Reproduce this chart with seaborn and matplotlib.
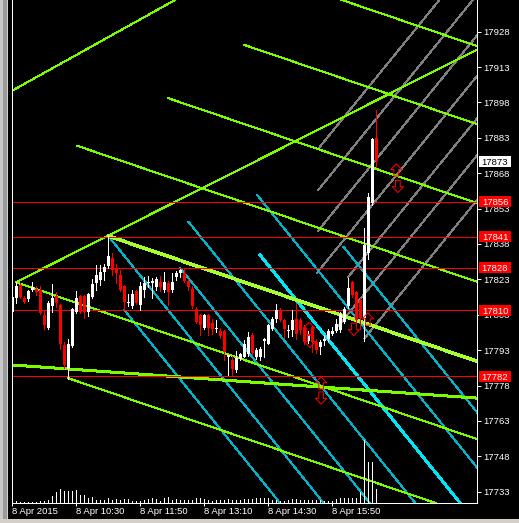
import matplotlib
matplotlib.use("Agg")
import matplotlib.pyplot as plt
from matplotlib.patches import Rectangle
from matplotlib.path import Path
from matplotlib.markers import MarkerStyle
import seaborn as sns

# 5-minute candles, 8 Apr 2015, first bar 09:10
opens = [17809.2, 17814.9, 17820.8, 17815.1, 17814.6, 17818.7, 17819.1, 17818.4, 17807.8, 17802.4,
         17811.6, 17816.0, 17812.0, 17795.0, 17785.1, 17794.6, 17809.2, 17815.9, 17815.9, 17809.2,
         17815.6, 17821.3, 17822.7, 17826.2, 17828.6, 17832.1, 17828.0, 17824.8, 17820.1, 17812.8,
         17811.6, 17818.1, 17812.0, 17818.7, 17821.3, 17821.5, 17819.8, 17821.9, 17818.4, 17821.5,
         17818.4, 17823.8, 17825.5, 17825.8, 17822.4, 17819.1, 17810.6, 17807.8, 17802.4, 17807.8,
         17804.3, 17801.8, 17801.0, 17801.0, 17790.2, 17789.0, 17784.4, 17789.4, 17790.1, 17791.5,
         17799.3, 17790.1, 17790.0, 17796.8, 17795.8, 17802.1, 17806.0, 17809.9, 17805.7, 17801.2,
         17801.4, 17806.4, 17805.7, 17802.8, 17797.0, 17802.8, 17796.4, 17794.3, 17796.8, 17797.9,
         17800.0, 17801.0, 17801.4, 17804.9, 17811.6, 17821.9, 17817.7, 17814.2, 17806.5, 17834.0,
         17855.2, 17882.8]
highs = [17816.3, 17821.9, 17821.5, 17816.0, 17818.4, 17821.9, 17820.1, 17820.1, 17809.9, 17813.9,
         17820.9, 17817.7, 17812.5, 17796.4, 17797.9, 17810.8, 17818.0, 17816.3, 17816.3, 17817.3,
         17823.1, 17829.0, 17829.0, 17829.4, 17841.3, 17834.0, 17829.7, 17826.9, 17820.5, 17816.9,
         17818.4, 17818.4, 17821.9, 17824.0, 17824.4, 17823.7, 17823.9, 17824.3, 17826.2, 17822.3,
         17825.8, 17826.5, 17827.6, 17828.0, 17823.1, 17820.1, 17811.5, 17808.5, 17808.2, 17808.2,
         17806.4, 17805.9, 17802.2, 17801.4, 17790.8, 17790.5, 17792.5, 17792.0, 17797.5, 17800.5,
         17800.1, 17794.0, 17794.5, 17798.3, 17804.0, 17807.0, 17812.5, 17810.8, 17806.0, 17803.5,
         17809.9, 17812.8, 17806.5, 17803.5, 17801.0, 17803.3, 17797.9, 17797.5, 17799.5, 17802.0,
         17803.0, 17806.0, 17809.0, 17811.5, 17823.6, 17822.3, 17818.0, 17815.0, 17844.7, 17859.6,
         17883.0, 17894.9]
lows = [17808.6, 17812.8, 17815.0, 17812.8, 17813.9, 17818.0, 17816.3, 17808.4, 17802.1, 17802.1,
        17809.2, 17811.3, 17793.6, 17785.6, 17780.9, 17794.2, 17808.9, 17808.6, 17806.8, 17807.6,
        17815.0, 17818.4, 17820.6, 17822.6, 17828.0, 17824.8, 17821.3, 17818.0, 17809.9, 17811.7,
        17811.0, 17812.5, 17810.2, 17815.6, 17819.7, 17815.0, 17818.6, 17818.0, 17817.7, 17812.0,
        17817.8, 17822.6, 17824.1, 17822.0, 17818.7, 17811.0, 17804.3, 17799.3, 17801.8, 17799.3,
        17799.7, 17800.5, 17798.0, 17788.7, 17782.3, 17782.3, 17783.9, 17788.8, 17790.0, 17790.5,
        17790.8, 17789.4, 17788.7, 17790.1, 17795.4, 17801.7, 17805.0, 17805.3, 17798.3, 17798.6,
        17798.9, 17797.9, 17800.0, 17795.8, 17796.0, 17792.2, 17791.6, 17791.5, 17795.0, 17797.0,
        17799.5, 17800.5, 17800.8, 17804.5, 17810.8, 17815.5, 17803.5, 17802.0, 17796.7, 17831.5,
        17854.5, 17870.8]
closes = [17815.6, 17820.1, 17815.6, 17813.4, 17818.0, 17819.8, 17817.7, 17808.8, 17803.5, 17812.8,
          17814.9, 17812.8, 17795.8, 17786.5, 17795.8, 17810.6, 17814.9, 17809.2, 17809.2, 17816.7,
          17820.9, 17824.8, 17826.2, 17828.3, 17832.8, 17826.9, 17825.8, 17818.4, 17813.4, 17813.4,
          17817.0, 17813.0, 17820.1, 17821.3, 17821.9, 17822.3, 17823.1, 17819.8, 17821.8, 17817.7,
          17821.9, 17825.5, 17826.9, 17822.4, 17819.8, 17811.6, 17804.9, 17803.5, 17807.8, 17802.6,
          17802.1, 17802.2, 17798.9, 17792.2, 17790.8, 17785.1, 17789.8, 17791.5, 17795.8, 17798.5,
          17791.6, 17793.2, 17793.6, 17797.6, 17803.5, 17806.0, 17809.9, 17805.7, 17802.1, 17801.7,
          17805.7, 17800.0, 17801.4, 17796.4, 17800.0, 17796.4, 17792.9, 17796.4, 17797.9, 17801.1,
          17801.2, 17804.0, 17808.5, 17810.6, 17819.3, 17816.3, 17805.7, 17806.5, 17837.5, 17858.0,
          17882.4, 17873.0]
volumes = [7, 7, 4, 4, 4, 4, 4, 7, 9, 13, 29, 43, 57, 47, 47, 49, 53, 33, 31, 20,
           24, 13, 13, 13, 20, 13, 16, 13, 17, 16, 9, 9, 9, 13, 16, 20, 16, 9, 20, 24,
           13, 16, 13, 11, 11, 13, 20, 20, 17, 13, 9, 13, 13, 13, 17, 13, 13, 13, 17, 17,
           17, 20, 20, 20, 20, 13, 11, 7, 9, 11, 17, 17, 13, 11, 11, 11, 11, 11, 9, 7,
           9, 17, 20, 20, 20, 20, 20, 43, 253, 163, 165, 57]

time_label_bars = [0, 16, 32, 48, 64, 80]
time_labels = ["8 Apr 2015", "8 Apr 10:30", "8 Apr 11:50", "8 Apr 13:10", "8 Apr 14:30", "8 Apr 15:50"]
price_ticks = [17733, 17748, 17763, 17778, 17793, 17808, 17823, 17838, 17853, 17868, 17883, 17898, 17913, 17928]

# horizontal support / resistance levels
levels = [17856, 17841, 17828, 17810, 17782]

# trend lines as (start bar, start price, end bar, end price)
green_lines = [(-5, 17898.3, 60, 17959.7), (58.0, 17922.4, 120, 17886.6), (75, 17945.7, 120, 17919.7),
               (0.9, 17821.8, 120, 17923.7), (0.9, 17821.8, 120, 17753.1), (14.0, 17781.1, 120, 17720.0),
               (39.0, 17899.8, 120, 17853.1), (16.1, 17879.7, 120, 17819.8)]
green_flat_line = [(-5, 17787.3, 120, 17772.2)]
green_bold_line = [(24, 17841.4, 120, 17786.1)]
cyan_lines = [(28, 17810.0, 75, 17711.2), (24, 17841.4, 85, 17713.1), (42, 17827.8, 100, 17705.9),
              (44, 17847.5, 105, 17719.2), (61.2, 17858.8, 125, 17724.7), (82.75, 17836.9, 125, 17748.1)]
cyan_bold_line = [(61.9, 17833.4, 120, 17711.3)]
gray_lines = [(76.4, 17878.2, 110, 17948.2), (76.4, 17860.7, 120, 17951.6), (76.4, 17843.5, 120, 17934.4),
              (76.1, 17825.6, 120, 17917.2), (84.0, 17824.1, 120, 17899.2), (81.4, 17803.0, 120, 17883.5),
              (88.0, 17797.9, 120, 17864.6)]

# signal arrows
up_arrow_bars = [74.2, 88.9, 96.0, 77.2]
up_arrow_prices = [17802.2, 17806.2, 17869.4, 17779.1]
down_arrow_bars = [74.4, 85.4, 96.4, 77.2]
down_arrow_prices = [17796.7, 17801.8, 17862.4, 17772.7]

W, H = 519, 523
PX = 72 / 100  # one pixel in points

sns.set_theme(style="dark", rc={"axes.facecolor": "black", "figure.facecolor": "black",
                                "axes.grid": False})
plt.rcParams["font.family"] = ["Liberation Sans", "DejaVu Sans"]

fig = plt.figure(figsize=(W / 100, H / 100), dpi=100, facecolor="black")
ax = fig.add_axes([11.5 / W, 20 / H, (477 - 11.5) / W, 503 / H])
ax.set_facecolor("black")

# volume histogram along the bottom of the price panel
vax = ax.twinx()
vax.vlines(range(len(volumes)), 0, volumes, colors="white", linewidth=PX, antialiased=False)
vax.set_ylim(0, 2012)
vax.set_yticks([])
for s in vax.spines.values():
    s.set_visible(False)


def draw_lines(segs, color, width, z=1):
    for x0, y0, x1, y1 in segs:
        sns.lineplot(x=[x0, x1], y=[y0, y1], ax=ax, color=color, linewidth=width * PX,
                     estimator=None, sort=False, legend=False, zorder=z, antialiased=False)


draw_lines(gray_lines, "#808080", 1)
draw_lines(cyan_lines, "#00b4cc", 1)
draw_lines(cyan_bold_line, "#00e6f5", 2)
draw_lines(green_lines, "#7cfc00", 1)
draw_lines(green_flat_line, "#7cfc00", 2)
draw_lines(green_bold_line, "#a8ff2f", 2.5)

for lev in levels:
    ax.axhline(lev, color="#ff0000", linewidth=PX, zorder=1.5, antialiased=False)

# candles
idx = list(range(len(opens)))
cols = ["white" if c >= o else "#ff0000" for o, c in zip(opens, closes)]
ax.vlines(idx, lows, highs, colors=cols, linewidth=PX, zorder=3, antialiased=False)
bottoms = [min(o, c) for o, c in zip(opens, closes)]
heights = [max(abs(c - o), 0.45) for o, c in zip(opens, closes)]
ax.bar(idx, heights, bottom=bottoms, width=0.72, color=cols, linewidth=0, zorder=3, antialiased=False)

# hollow arrow markers
up_verts = [(0, 0.5), (0.46, 0.02), (0.19, 0.02), (0.19, -0.5), (-0.19, -0.5), (-0.19, 0.02),
            (-0.46, 0.02), (0, 0.5)]
up_path = Path(up_verts, [Path.MOVETO] + [Path.LINETO] * 6 + [Path.CLOSEPOLY])
down_path = Path([(x, -y) for x, y in up_verts], up_path.codes)
ax.scatter(up_arrow_bars, up_arrow_prices, marker=MarkerStyle(up_path), s=78,
           facecolors="none", edgecolors="#ff0000", linewidths=PX, zorder=4)
ax.scatter(down_arrow_bars, down_arrow_prices, marker=MarkerStyle(down_path), s=78,
           facecolors="none", edgecolors="#ff0000", linewidths=PX, zorder=4)

ax.set_xlim(-0.2, 116.175)
ax.set_ylim(17728.2, 17941.44)
vax.set_xlim(-0.2, 116.175)

# axes frame and ticks
ax.spines["top"].set_visible(False)
for side in ("left", "right", "bottom"):
    ax.spines[side].set_color("white")
    ax.spines[side].set_linewidth(PX)
ax.yaxis.tick_right()
ax.set_yticks(price_ticks)
ax.set_yticklabels([str(t) for t in price_ticks])
ax.tick_params(axis="y", colors="white", labelcolor="white", length=4 * PX, width=PX,
               pad=1.5, labelsize=6.8, right=True, left=False)
ax.set_xticks(time_label_bars)
ax.set_xticklabels(time_labels, ha="left")
ax.tick_params(axis="x", colors="white", labelcolor="white", length=3 * PX, width=PX,
               pad=1, labelsize=6.8, bottom=True)
ax.set_xlabel("")
ax.set_ylabel("")

# price tags on the right scale
ppx = (17941.44 - 17728.2) / 503
box_x0 = (479 - 11.5) / (477 - 11.5)
box_w = 32 / (477 - 11.5)
ytr = ax.get_yaxis_transform()
tags = [(lev, "#ff0000", "white") for lev in levels] + [(closes[-1], "white", "black")]
for val, fc, tc in tags:
    ax.add_patch(Rectangle((box_x0, val - 5.5 * ppx), box_w, 11 * ppx, transform=ytr,
                           facecolor=fc, edgecolor="none", clip_on=False, zorder=5))
    ax.text(box_x0 + box_w / 2, val, f"{val:.0f}", transform=ytr, color=tc, fontsize=6.8,
            ha="center", va="center_baseline", clip_on=False, zorder=6)

# window frame bits around the chart
fig.add_artist(Rectangle((0, 0), 3 / W, 1, transform=fig.transFigure, facecolor="#c8c8c8", lw=0))
fig.add_artist(Rectangle((3 / W, 0), 4 / W, 1, transform=fig.transFigure, facecolor="#9a9a9a", lw=0))
fig.add_artist(Rectangle((7 / W, 0), 1 / W, 1, transform=fig.transFigure, facecolor="#d0d0d0", lw=0))
fig.add_artist(Rectangle((0, 0), 1, 4 / H, transform=fig.transFigure, facecolor="#d4d0c8", lw=0))

fig.savefig("out.png", dpi=100, facecolor="black")
